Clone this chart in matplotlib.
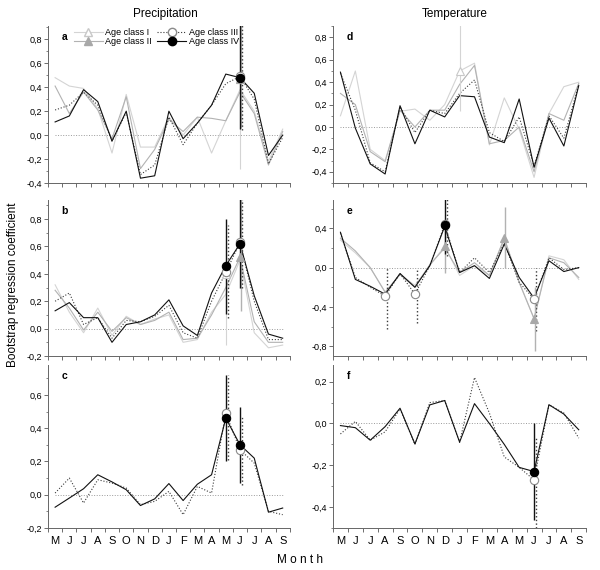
import matplotlib
matplotlib.use("Agg")
import matplotlib.pyplot as plt
from matplotlib.ticker import FuncFormatter, MultipleLocator
from matplotlib.lines import Line2D

plt.rcParams['font.family'] = ['Liberation Sans', 'DejaVu Sans']

months = ["M", "J", "J", "A", "S", "O", "N", "D", "J", "F", "M", "A", "M", "J", "J", "A", "S"]

# ---- series per panel (age class I..IV) ----
a_I   = [0.48, 0.41, 0.39, 0.22, -0.15, 0.34, -0.10, -0.10, 0.15, 0.00, 0.15, -0.15, 0.12, 0.38, 0.20, -0.22, 0.05]
a_II  = [0.41, 0.18, 0.36, 0.21, -0.03, 0.32, -0.28, -0.12, 0.13, 0.03, 0.15, 0.14, 0.12, 0.36, 0.18, -0.25, 0.03]
a_III = [0.21, 0.25, 0.36, 0.25, -0.05, 0.19, -0.33, -0.25, 0.15, -0.08, 0.10, 0.25, 0.43, 0.49, 0.30, -0.24, -0.02]
a_IV  = [0.11, 0.16, 0.38, 0.28, -0.05, 0.20, -0.36, -0.34, 0.20, -0.03, 0.10, 0.25, 0.51, 0.48, 0.35, -0.17, 0.00]

b_I   = [0.32, 0.12, -0.03, 0.15, -0.05, 0.09, 0.03, 0.07, 0.10, -0.10, -0.08, 0.12, 0.25, 0.50, -0.03, -0.14, -0.12]
b_II  = [0.28, 0.15, -0.01, 0.12, -0.02, 0.08, 0.03, 0.06, 0.12, -0.08, -0.07, 0.10, 0.30, 0.52, 0.05, -0.10, -0.10]
b_III = [0.20, 0.26, 0.03, 0.08, -0.07, 0.06, 0.05, 0.09, 0.17, -0.03, -0.07, 0.20, 0.41, 0.63, 0.20, -0.08, -0.08]
b_IV  = [0.13, 0.19, 0.08, 0.08, -0.10, 0.03, 0.05, 0.10, 0.21, 0.02, -0.05, 0.26, 0.46, 0.62, 0.24, -0.04, -0.07]

c_III = [0.01, 0.10, -0.05, 0.09, 0.07, 0.04, -0.06, -0.04, 0.02, -0.12, 0.05, 0.01, 0.49, 0.27, 0.19, -0.10, -0.12]
c_IV  = [-0.075, -0.02, 0.036, 0.12, 0.077, 0.03, -0.065, -0.025, 0.067, -0.035, 0.063, 0.12, 0.46, 0.30, 0.22, -0.105, -0.08]

d_I   = [0.10, 0.50, -0.20, -0.30, 0.14, 0.16, 0.06, 0.20, 0.50, 0.57, -0.16, 0.26, -0.02, -0.45, 0.12, 0.36, 0.40]
d_II  = [0.30, 0.20, -0.22, -0.31, 0.15, 0.00, 0.15, 0.15, 0.38, 0.55, -0.15, -0.12, 0.00, -0.40, 0.12, 0.06, 0.39]
d_III = [0.48, 0.15, -0.32, -0.40, 0.18, -0.05, 0.15, 0.12, 0.30, 0.42, -0.05, -0.13, 0.09, -0.35, 0.10, -0.10, 0.38]
d_IV  = [0.49, -0.01, -0.33, -0.42, 0.19, -0.15, 0.15, 0.09, 0.28, 0.27, -0.09, -0.14, 0.25, -0.36, 0.08, -0.17, 0.37]

e_I   = [0.28, 0.15, 0.00, -0.25, -0.07, -0.18, 0.02, 0.22, -0.08, 0.02, -0.08, 0.30, -0.15, -0.52, 0.12, 0.08, -0.12]
e_II  = [0.30, 0.17, 0.00, -0.25, -0.07, -0.20, 0.03, 0.20, -0.05, 0.05, -0.08, 0.30, -0.15, -0.52, 0.10, 0.05, -0.10]
e_III = [0.35, -0.10, -0.20, -0.29, -0.06, -0.27, 0.02, 0.44, -0.05, 0.10, -0.05, 0.25, -0.15, -0.32, 0.10, -0.02, 0.00]
e_IV  = [0.36, -0.12, -0.19, -0.27, -0.06, -0.20, 0.02, 0.42, -0.05, 0.02, -0.11, 0.24, -0.10, -0.31, 0.07, -0.04, 0.00]

f_III = [-0.05, 0.01, -0.08, -0.04, 0.07, -0.10, 0.10, 0.11, -0.09, 0.22, 0.05, -0.16, -0.21, -0.27, 0.09, 0.05, -0.07]
f_IV  = [-0.01, -0.02, -0.08, -0.015, 0.073, -0.098, 0.089, 0.11, -0.089, 0.095, 0.00, -0.10, -0.21, -0.23, 0.09, 0.045, -0.03]

# ---- significant points with bootstrap confidence limits ----
sig_panel = ["a", "a", "a", "a", "b", "b", "b", "b", "b", "b", "c", "c", "c", "c",
             "d", "e", "e", "e", "e", "e", "e", "e", "e", "f", "f"]
sig_class = ["I", "II", "III", "IV", "I", "III", "IV", "II", "III", "IV", "III", "IV", "III", "IV",
             "I", "III", "III", "II", "III", "IV", "II", "III", "II", "III", "IV"]
sig_month = [13, 13, 13, 13, 12, 12, 12, 13, 13, 13, 12, 12, 13, 13,
             8, 3, 5, 7, 7, 7, 11, 13, 13, 13, 13]
sig_value = [0.47, 0.47, 0.49, 0.48, 0.40, 0.41, 0.46, 0.52, 0.63, 0.62, 0.49, 0.46, 0.27, 0.30,
             0.50, -0.29, -0.27, 0.22, 0.44, 0.43, 0.30, -0.32, -0.52, -0.27, -0.23]
sig_lo    = [-0.28, 0.06, 0.04, 0.05, -0.12, 0.08, 0.11, 0.13, 0.30, 0.30, 0.21, 0.20, 0.06, 0.07,
             0.14, -0.62, -0.56, -0.05, 0.12, 0.14, 0.00, -0.65, -0.85, -0.50, -0.46]
sig_hi    = [0.95, 0.95, 0.95, 0.95, 0.60, 0.76, 0.80, 0.98, 0.98, 0.98, 0.72, 0.72, 0.47, 0.53,
             0.95, 0.00, -0.02, 0.45, 0.75, 0.75, 0.62, 0.00, -0.20, -0.06, 0.00]

series = {
    "a": {"I": a_I, "II": a_II, "III": a_III, "IV": a_IV},
    "b": {"I": b_I, "II": b_II, "III": b_III, "IV": b_IV},
    "c": {"III": c_III, "IV": c_IV},
    "d": {"I": d_I, "II": d_II, "III": d_III, "IV": d_IV},
    "e": {"I": e_I, "II": e_II, "III": e_III, "IV": e_IV},
    "f": {"III": f_III, "IV": f_IV},
}

style = {
    "I":   dict(color="#d4d4d4", ls="-", lw=0.8, marker="^", mfc="white", mec="#c8c8c8", off=0.0),
    "II":  dict(color="#b2b2b2", ls="-", lw=0.8, marker="^", mfc="#a8a8a8", mec="#a8a8a8", off=0.05),
    "III": dict(color="#3a3a3a", ls=":", lw=0.8, marker="o", mfc="white", mec="#8a8a8a", off=0.15),
    "IV":  dict(color="#111111", ls="-", lw=0.8, marker="o", mfc="black", mec="black", off=0.0),
}

ylims = {"a": (-0.4, 0.91), "b": (-0.2, 0.94), "c": (-0.2, 0.78),
         "d": (-0.5, 0.9), "e": (-0.9, 0.69), "f": (-0.5, 0.28)}
ysteps = {"a": 0.2, "b": 0.2, "c": 0.2, "d": 0.2, "e": 0.4, "f": 0.2}

fig = plt.figure(figsize=(6, 5.7), dpi=100)
rows = [(0.679, 0.275), (0.3754, 0.274), (0.0737, 0.286)]
cols = [(0.08, 0.403), (0.555, 0.422)]
layout = {"a": (0, 0), "b": (0, 1), "c": (0, 2), "d": (1, 0), "e": (1, 1), "f": (1, 2)}

comma = FuncFormatter(lambda v, p: ("%.1f" % v).replace(".", ",").replace("-0,0", "0,0"))
x = list(range(len(months)))

for name, (ci, ri) in layout.items():
    l, w = cols[ci]
    b, h = rows[ri]
    ax = fig.add_axes([l, b, w, h])
    ax.hlines(0, x[0], x[-1], colors="#9a9a9a", linestyles=":", lw=0.7, zorder=1)
    for cls in ["I", "II", "III", "IV"]:
        if cls in series[name]:
            st = style[cls]
            ax.plot(x, series[name][cls], color=st["color"], ls=st["ls"], lw=st["lw"], zorder=2)
    for p, cls, m, v, lo, hi in zip(sig_panel, sig_class, sig_month, sig_value, sig_lo, sig_hi):
        if p != name:
            continue
        st = style[cls]
        ax.vlines(m + st["off"], lo, hi, colors=st["color"], linestyles=st["ls"],
                  lw=1.0 if cls != "I" else 0.8, zorder=3)
        ax.plot([m], [v], marker=st["marker"], ms=6, mfc=st["mfc"], mec=st["mec"],
                mew=0.8, ls="none", zorder=4)

    ax.set_xlim(-0.5, len(months) - 0.5)
    ax.set_ylim(*ylims[name])
    ax.set_xticks(x)
    ax.xaxis.set_minor_locator(MultipleLocator(1, offset=0.5))
    ax.tick_params(axis="x", which="major", length=0, labelsize=8, pad=6)
    ax.tick_params(axis="x", which="minor", length=3, width=0.6, color="#555555")
    if ri == 2:
        ax.set_xticklabels(months)
    else:
        ax.set_xticklabels([])
    ax.yaxis.set_major_locator(MultipleLocator(ysteps[name]))
    ax.yaxis.set_minor_locator(MultipleLocator(ysteps[name] / 2))
    ax.yaxis.set_major_formatter(comma)
    ax.tick_params(axis="y", which="major", length=3, width=0.6, labelsize=6.5, pad=1.5, color="#555555")
    ax.tick_params(axis="y", which="minor", length=1.5, width=0.5, color="#555555")
    for s in ["top", "right"]:
        ax.spines[s].set_visible(False)
    for s in ["left", "bottom"]:
        ax.spines[s].set_linewidth(0.7)
        ax.spines[s].set_color("#666666")
    ax.text(0.055, 0.96, name, transform=ax.transAxes, fontsize=7.5, fontweight="bold",
            va="top", ha="left")

    if name == "a":
        handles = []
        for cls in ["I", "II", "III", "IV"]:
            st = style[cls]
            handles.append(Line2D([], [], color=st["color"], ls=st["ls"], lw=st["lw"],
                                  marker=st["marker"], ms=6, mfc=st["mfc"], mec=st["mec"]))
        ax.legend(handles, ["Age class I", "Age class II", "Age class III", "Age class IV"],
                  ncol=2, loc="upper left", bbox_to_anchor=(0.08, 1.03), frameon=False,
                  fontsize=6.5, handlelength=3.2, columnspacing=0.6, labelspacing=0.05,
                  handletextpad=0.3, borderpad=0.2)

fig.text(0.275, 0.975, "Precipitation", ha="center", va="center", fontsize=8.5)
fig.text(0.758, 0.975, "Temperature", ha="center", va="center", fontsize=8.5)
fig.text(0.022, 0.5, "Bootstrap regression coefficient", rotation=90, ha="center",
         va="center", fontsize=8.5)
fig.text(0.5, 0.018, "M o n t h", ha="center", va="center", fontsize=8.5)

fig.savefig("out.png", dpi=100)
